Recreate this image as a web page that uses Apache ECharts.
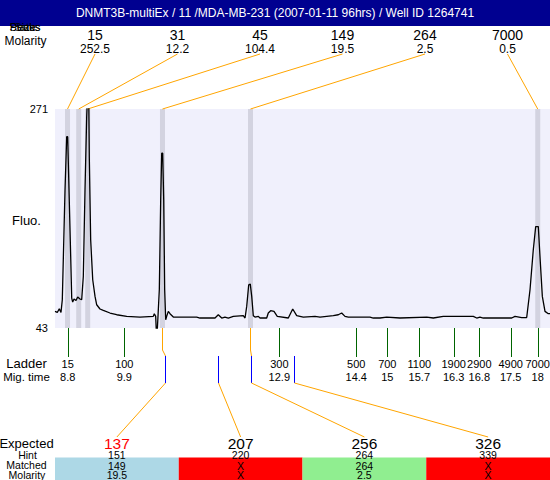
<!DOCTYPE html>
<html><head><meta charset="utf-8">
<script src="https://cdn.jsdelivr.net/npm/echarts@6/dist/echarts.min.js"></script>
<style>html,body{margin:0;padding:0;background:#fff}#c{width:550px;height:480px}</style>
</head><body><div id="c"></div>
<script>
// ---------- data ----------
const title = 'DNMT3B-multiEx / 11 /MDA-MB-231 (2007-01-11 96hrs) / Well ID 1264741';
const peakSizes = ['15', '31', '45', '149', '264', '7000'];
const peakMolarity = ['252.5', '12.2', '104.4', '19.5', '2.5', '0.5'];
const peakTimes = [8.775, 8.994, 9.170, 10.633, 12.355, 17.975];

const ladderSizes = ['15', '100', '300', '500', '700', '1100', '1900', '2900', '4900', '7000'];
const ladderTimeLabels = ['8.8', '9.9', '12.9', '14.4', '15', '15.7', '16.3', '16.8', '17.5', '18'];
const ladderTimes = [8.778, 9.886, 12.919, 14.425, 15.032, 15.658, 16.331, 16.832, 17.446, 17.974];

const expectedSizes = ['137', '207', '256', '326'];
const expectedTimes = [10.676, 11.713, 12.371, 13.206];
const hintSizes = ['151', '220', '264', '339'];
const matchedSizes = ['149', 'X', '264', 'X'];
const matchedMolarity = ['19.5', 'X', '2.5', 'X'];
const matchedPeak = [3, -1, 4, -1];
const matchStatus = ['shifted', 'missing', 'ok', 'missing'];

const yTicks = [43, 271];
const timeRange = [8.53, 18.215];

const traceTime = [8.530, 8.575, 8.614, 8.647, 8.673, 8.726, 8.759, 8.778, 8.804, 8.837,
  8.857, 8.876, 8.902, 8.941, 8.974, 9.019, 9.052, 9.084, 9.117, 9.150,
  9.170, 9.189, 9.201, 9.228, 9.268, 9.313, 9.346, 9.410, 9.475, 9.606,
  9.737, 9.933, 10.193, 10.453, 10.473, 10.500, 10.520, 10.545, 10.571, 10.598,
  10.618, 10.637, 10.657, 10.676, 10.696, 10.715, 10.747, 10.780, 10.845, 11.107,
  11.302, 11.367, 11.661, 11.725, 11.792, 11.856, 11.921, 12.019, 12.214, 12.248,
  12.281, 12.320, 12.351, 12.379, 12.410, 12.443, 12.508, 12.541, 12.672, 12.703,
  12.750, 12.815, 12.879, 13.095, 13.181, 13.259, 13.388, 13.617, 13.715, 13.975,
  14.073, 14.139, 14.204, 14.269, 14.693, 14.758, 14.889, 15.020, 15.280, 15.803,
  15.932, 16.127, 16.714, 16.781, 16.845, 16.910, 17.466, 17.530, 17.661, 17.759,
  17.824, 17.888, 17.935, 17.986, 18.019, 18.065, 18.117, 18.182, 18.215];
const traceFluo = [60.3, 59.2, 63.1, 59.2, 72.4, 186.8, 242.2, 242.2, 186.8, 117.4,
  74.2, 70.0, 73.2, 71.7, 75.2, 73.2, 72.4, 96.6, 186.8, 263.0,
  290, 290, 221.4, 134.8, 93.2, 75.9, 67.2, 62.8, 61.3, 58.6,
  56.8, 55.1, 54.4, 55.1, 57.9, 55.1, 30, 55.1, 82.8, 176.4,
  225.0, 225.0, 176.4, 82.8, 51.6, 55.1, 60.3, 57.9, 54.4, 54.4,
  54.4, 53.4, 53.4, 56.8, 53.4, 54.4, 53.4, 55.1, 55.8, 53.4,
  65.5, 88.0, 88.7, 75.9, 55.8, 54.4, 55.1, 53.4, 53.4, 58.6,
  61.0, 60.3, 55.1, 53.4, 62.8, 55.8, 54.4, 55.1, 54.4, 55.8,
  56.8, 58.6, 55.1, 54.4, 54.4, 53.4, 53.4, 54.4, 53.4, 54.4,
  53.4, 55.1, 55.1, 53.4, 54.4, 53.4, 53.4, 55.1, 53.9, 53.9,
  82.8, 124.4, 148.6, 148.6, 117.4, 75.9, 60.3, 57.9, 57.9];

// ---------- layout / style ----------
const FF = '"Liberation Sans", Arial, Helvetica, sans-serif';
const ORANGE = '#FFA500', BLUE = '#0000FF', GREEN = '#006400';
const G = { left: 55, top: 109, width: 495, height: 219 };
const yMin = yTicks[0], yMax = yTicks[yTicks.length - 1];
const headX = i => 95 + 82.5 * i;
const colW = G.width / expectedSizes.length;
const colX = i => G.left + colW * (i + 0.5);
const statusFill = { shifted: '#ADD8E6', missing: '#FF0000', ok: '#90EE90' };
const statusText = { shifted: '#FF0000', missing: '#000000', ok: '#000000' };
const px = v => Math.round(v) + 0.5;

function txt(text, x, y, size, color, align) {
  return { type: 'text', silent: true, z: 20,
    style: { text: text, x: x, y: y, fontSize: size, fontFamily: FF, fill: color || '#000',
      align: align || 'center', verticalAlign: 'middle' } };
}

const chart = echarts.init(document.getElementById('c'), null, { renderer: 'svg' });

const graphics = [
  { type: 'rect', silent: true, z: 1, shape: { x: 0, y: 0, width: 550, height: 26 }, style: { fill: '#000090' } },
  txt(title, 275, 13, 12, '#FFFFFF'),
  txt('Peaks', 25, 27, 11), txt('Size', 25, 27, 11), txt('Status', 25, 27, 11),
  txt('Molarity', 25.5, 41, 12),
  txt('Fluo.', 26.5, 220, 13),
  txt('Ladder', 26.5, 363.5, 13),
  txt('Mig. time', 26.5, 377, 11.5),
  txt('Expected', 26.5, 443, 13),
  txt('Hint', 27.5, 455, 10.5),
  txt('Matched', 26.5, 465, 10.5),
  txt('Molarity', 27, 474.5, 10.5)
];
peakSizes.forEach((s, i) => {
  graphics.push(txt(s, headX(i), 35, 14));
  graphics.push(txt(peakMolarity[i], headX(i), 49, 12));
});
expectedSizes.forEach((s, i) => {
  const st = matchStatus[i];
  graphics.push({ type: 'rect', silent: true, z: 2,
    shape: { x: G.left + colW * i, y: 457.5, width: (i === expectedSizes.length - 1 ? 550 - (G.left + colW * i) : colW), height: 22.5 },
    style: { fill: statusFill[st] } });
  graphics.push(txt(s, colX(i), 443.5, 15.5, statusText[st]));
  graphics.push(txt(hintSizes[i], colX(i), 455, 10.5));
  graphics.push(txt(matchedSizes[i], colX(i), 465.5, 10.5));
  graphics.push(txt(matchedMolarity[i], colX(i), 474.5, 10.5));
});

const option = {
  animation: false,
  grid: { left: G.left, top: G.top, width: G.width, height: G.height, show: true,
    backgroundColor: '#F0F0FC', borderWidth: 0 },
  xAxis: { type: 'value', min: timeRange[0], max: timeRange[1], show: false },
  yAxis: { type: 'value', min: yMin, max: yMax,
    axisLine: { show: false }, axisTick: { show: false }, splitLine: { show: false },
    axisLabel: { customValues: yTicks, fontSize: 11, color: '#000', margin: 7, fontFamily: FF } },
  graphic: graphics,
  series: [
    { // peak bands
      type: 'custom', silent: true, z: 2, clip: false,
      data: peakTimes.map(t => [t, yMin]),
      renderItem: (params, api) => {
        const b = api.coord([api.value(0), yMin]);
        const t = api.coord([api.value(0), yMax]);
        return { type: 'rect', shape: { x: b[0] - 2.5, y: t[1], width: 5, height: b[1] - t[1] },
          style: { fill: '#D3D3E0' } };
      }
    },
    { // header connectors
      type: 'custom', silent: true, z: 3, clip: false,
      data: peakTimes.map(t => [t, yMax]),
      renderItem: (params, api) => {
        const p = api.coord([api.value(0), yMax]);
        return { type: 'line', shape: { x1: headX(params.dataIndex), y1: 54, x2: p[0], y2: p[1] },
          style: { stroke: ORANGE, lineWidth: 1 } };
      }
    },
    { // electropherogram trace
      type: 'line', z: 5, clip: true, showSymbol: false, silent: true,
      lineStyle: { color: '#000', width: 1.3 },
      data: traceTime.map((t, i) => [t, traceFluo[i]])
    },
    { // ladder ticks and labels
      type: 'custom', silent: true, z: 4, clip: false,
      data: ladderTimes.map(t => [t, yMin]),
      renderItem: (params, api) => {
        const p = api.coord([api.value(0), yMin]);
        const i = params.dataIndex;
        const x = px(p[0]);
        return { type: 'group', children: [
          { type: 'line', shape: { x1: x, y1: p[1], x2: x, y2: p[1] + 29 }, style: { stroke: GREEN, lineWidth: 1 } },
          { type: 'text', style: { text: ladderSizes[i], x: p[0], y: p[1] + 35.5, align: 'center', verticalAlign: 'middle', fontSize: 11, fontFamily: FF, fill: '#000' } },
          { type: 'text', style: { text: ladderTimeLabels[i], x: p[0], y: p[1] + 49, align: 'center', verticalAlign: 'middle', fontSize: 11, fontFamily: FF, fill: '#000' } }
        ] };
      }
    },
    { // expected markers
      type: 'custom', silent: true, z: 4, clip: false,
      data: expectedTimes.map(t => [t, yMin]),
      renderItem: (params, api) => {
        const i = params.dataIndex;
        const p = api.coord([api.value(0), yMin]);
        const x = px(p[0]);
        const ch = [];
        if (matchedPeak[i] >= 0) {
          const q = api.coord([peakTimes[matchedPeak[i]], yMin]);
          const qx = px(q[0]);
          ch.push({ type: 'polyline', shape: { points: [[qx, p[1]], [qx, p[1] + 22], [x, p[1] + 28]] },
            style: { stroke: ORANGE, lineWidth: 1, fill: 'none' } });
        }
        ch.push({ type: 'line', shape: { x1: x, y1: p[1] + 28, x2: x, y2: p[1] + 55 }, style: { stroke: BLUE, lineWidth: 1 } });
        ch.push({ type: 'line', shape: { x1: x, y1: p[1] + 55, x2: colX(i), y2: 437 }, style: { stroke: ORANGE, lineWidth: 1 } });
        return { type: 'group', children: ch };
      }
    }
  ]
};
chart.setOption(option);
</script>
</body></html>
